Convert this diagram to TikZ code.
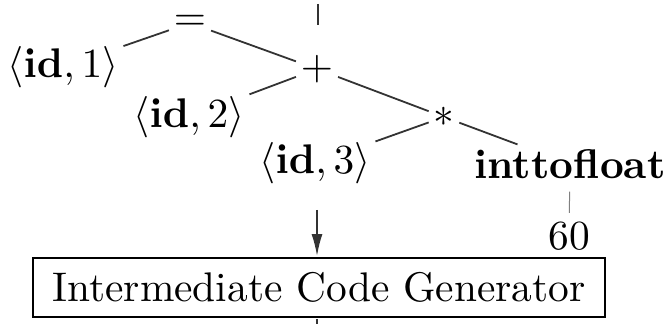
\documentclass[tikz,border=0pt]{standalone}
\usetikzlibrary{arrows.meta}
\begin{document}
\begin{tikzpicture}[x=0.5pt,y=-0.5pt,
  treenode/.style={scale=2.07,transform shape,inner sep=1pt},
  treeline/.style={line width=0.9pt,black!80}]
\useasboundingbox (0,0) rectangle (667,324);
\node[treenode] (eq) at (190,23) {$=$};
\node[treenode] (id1) at (63,67) {$\langle\mathbf{id},1\rangle$};
\node[treenode] (plus) at (317,69) {$+$};
\node[treenode] (id2) at (189,117) {$\langle\mathbf{id},2\rangle$};
\node[treenode] (times) at (444,117) {$*$};
\node[treenode] (id3) at (315,163) {$\langle\mathbf{id},3\rangle$};
\node[treenode] (itf) at (570,164) {\textbf{inttofloat}};
\node[treenode] (sixty) at (569,236) {60};
\node[treenode,draw,line width=0.9pt,minimum width=138.2pt,minimum height=14.25pt,inner sep=0pt] (icg) at (319,287.5) {Intermediate Code Generator};

\coordinate (stubtop) at (318,4);
\coordinate (stubbot) at (318,25);
\coordinate (arrtail) at (317,210);
\coordinate (outbot) at (317,324);

\draw[treeline] (eq) -- (id1);
\draw[treeline] (eq) -- (plus);
\draw[treeline] (plus) -- (id2);
\draw[treeline] (plus) -- (times);
\draw[treeline] (times) -- (id3);
\draw[treeline] (times) -- (itf);
\draw[treeline,line width=0.5pt,black!50,shorten <=4pt,shorten >=2pt] (itf) -- (sixty);

\draw[treeline,line width=1.2pt] (stubtop) -- (stubbot);
\draw[treeline,-{Latex[length=11pt,width=5.5pt]}] (arrtail) -- (icg.north -| arrtail);
\draw[treeline] (icg.south -| arrtail) -- (outbot);
\end{tikzpicture}
\end{document}
